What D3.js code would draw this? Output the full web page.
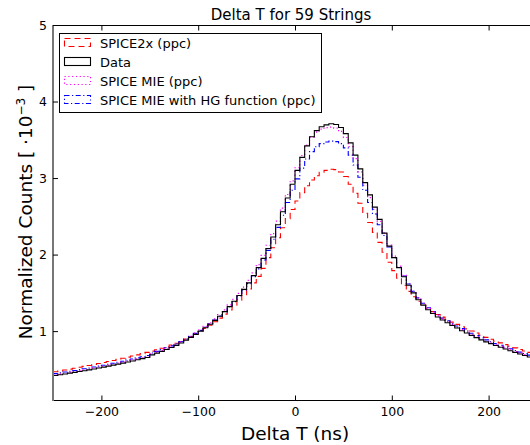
<!DOCTYPE html>
<html>
<head>
<meta charset="utf-8">
<script src="https://cdn.jsdelivr.net/npm/d3@7"></script>
<style>
  body { margin: 0; background: #fff; }
  svg { display: block; font-family: "DejaVu Sans", sans-serif; }
</style>
</head>
<body>
<div id="chart"></div>
<script>
// bin edges of the histograms (5 ns bins from -250 to 250)
const binEdges = d3.range(-250, 250.1, 5);

const dataCounts = [
  0.420, 0.430, 0.440, 0.451, 0.461, 0.472, 0.483, 0.494, 0.506, 0.518,
  0.530, 0.543, 0.556, 0.569, 0.582, 0.596, 0.610, 0.625, 0.640, 0.656,
  0.690, 0.712, 0.735, 0.760, 0.786, 0.814, 0.845, 0.880, 0.918, 0.958,
  1.000, 1.045, 1.090, 1.140, 1.195, 1.255, 1.320, 1.390, 1.465, 1.545,
  1.630, 1.725, 1.830, 1.950, 2.080, 2.230, 2.390, 2.560, 2.740, 2.920,
  3.100, 3.270, 3.420, 3.540, 3.620, 3.670, 3.695, 3.710, 3.700, 3.660,
  3.580, 3.460, 3.300, 3.120, 2.940, 2.780, 2.620, 2.460, 2.280, 2.110,
  1.960, 1.830, 1.710, 1.600, 1.500, 1.410, 1.340, 1.280, 1.230, 1.185,
  1.145, 1.110, 1.075, 1.040, 1.005, 0.975, 0.945, 0.915, 0.885, 0.860,
  0.836, 0.813, 0.790, 0.766, 0.744, 0.722, 0.701, 0.681, 0.662, 0.644
];

const spice2x = [
  0.470, 0.481, 0.492, 0.503, 0.515, 0.527, 0.539, 0.551, 0.564, 0.577,
  0.590, 0.603, 0.617, 0.631, 0.645, 0.660, 0.675, 0.690, 0.706, 0.722,
  0.739, 0.757, 0.776, 0.796, 0.818, 0.842, 0.868, 0.896, 0.927, 0.960,
  0.996, 1.035, 1.077, 1.122, 1.170, 1.222, 1.278, 1.340, 1.405, 1.475,
  1.550, 1.630, 1.715, 1.820, 1.960, 2.090, 2.220, 2.350, 2.470, 2.590,
  2.700, 2.810, 2.900, 2.975, 3.030, 3.075, 3.100, 3.115, 3.110, 3.080,
  3.020, 2.920, 2.800, 2.670, 2.540, 2.420, 2.290, 2.160, 2.030, 1.900,
  1.790, 1.690, 1.600, 1.520, 1.450, 1.390, 1.340, 1.295, 1.255, 1.218,
  1.183, 1.150, 1.118, 1.088, 1.058, 1.030, 1.002, 0.975, 0.944, 0.918,
  0.893, 0.869, 0.846, 0.824, 0.802, 0.781, 0.760, 0.741, 0.722, 0.704
];

const spiceMie = [
  0.432, 0.442, 0.452, 0.463, 0.473, 0.484, 0.495, 0.507, 0.519, 0.531,
  0.543, 0.556, 0.569, 0.582, 0.596, 0.610, 0.624, 0.639, 0.654, 0.670,
  0.704, 0.726, 0.749, 0.774, 0.800, 0.828, 0.859, 0.894, 0.932, 0.973,
  1.016, 1.062, 1.108, 1.160, 1.216, 1.278, 1.344, 1.416, 1.493, 1.575,
  1.662, 1.760, 1.868, 1.990, 2.122, 2.274, 2.436, 2.606, 2.785, 2.962,
  3.135, 3.295, 3.430, 3.535, 3.600, 3.640, 3.660, 3.665, 3.652, 3.610,
  3.530, 3.410, 3.255, 3.080, 2.905, 2.745, 2.590, 2.435, 2.280, 2.125,
  1.980, 1.850, 1.730, 1.620, 1.520, 1.430, 1.358, 1.297, 1.246, 1.200,
  1.159, 1.123, 1.088, 1.053, 1.019, 0.988, 0.957, 0.926, 0.897, 0.871,
  0.847, 0.823, 0.801, 0.777, 0.755, 0.733, 0.712, 0.692, 0.673, 0.655
];

const spiceMieHG = [
  0.445, 0.455, 0.465, 0.476, 0.486, 0.497, 0.508, 0.519, 0.531, 0.543,
  0.555, 0.568, 0.581, 0.594, 0.607, 0.621, 0.635, 0.650, 0.665, 0.681,
  0.714, 0.736, 0.758, 0.782, 0.807, 0.834, 0.863, 0.896, 0.932, 0.970,
  1.010, 1.052, 1.096, 1.144, 1.197, 1.255, 1.318, 1.386, 1.459, 1.537,
  1.620, 1.712, 1.814, 1.930, 2.055, 2.200, 2.355, 2.515, 2.680, 2.840,
  2.990, 3.130, 3.250, 3.345, 3.410, 3.450, 3.472, 3.482, 3.476, 3.450,
  3.395, 3.300, 3.170, 3.010, 2.840, 2.680, 2.530, 2.390, 2.250, 2.100,
  1.960, 1.835, 1.720, 1.615, 1.520, 1.435, 1.365, 1.305, 1.255, 1.210,
  1.170, 1.135, 1.100, 1.066, 1.032, 1.002, 0.972, 0.942, 0.912, 0.886,
  0.861, 0.837, 0.815, 0.791, 0.769, 0.747, 0.726, 0.706, 0.687, 0.669
];

const xTicks = [-200, -100, 0, 100, 200];
const yTicks = [1, 2, 3, 4, 5];

const series = [
  {name: "SPICE2x (ppc)", values: spice2x, color: "#ff0000", dash: "6,4", width: 1.1},
  {name: "Data", values: dataCounts, color: "#000000", dash: null, width: 1.1},
  {name: "SPICE MIE (ppc)", values: spiceMie, color: "#ff00ff", dash: "1.2,2.6", width: 1.2},
  {name: "SPICE MIE with HG function (ppc)", values: spiceMieHG, color: "#0000ff", dash: "5,2.5,1.2,2.5", width: 1.1}
];

const W = 530, H = 445;
const plotLeft = 53, plotTop = 25, plotBottom = 400, plotRight = 537;

const svg = d3.select("#chart").append("svg")
  .attr("width", W).attr("height", H);

const x = d3.scaleLinear().domain([-250, 250]).range([plotLeft, plotRight]);
const y = d3.scaleLinear().domain([0.1, 5]).range([plotBottom, plotTop]);

svg.append("defs").append("clipPath").attr("id", "clip")
  .append("rect")
  .attr("x", plotLeft).attr("y", plotTop)
  .attr("width", plotRight - plotLeft).attr("height", plotBottom - plotTop);

const line = d3.line()
  .x(d => x(d[0]))
  .y(d => y(d[1]))
  .curve(d3.curveStepAfter);

const plot = svg.append("g").attr("clip-path", "url(#clip)");

// draw in an order that keeps data visible on top of the simulations
[series[0], series[3], series[2], series[1]].forEach(s => {
  const pts = s.values.map((v, i) => [binEdges[i], v]);
  pts.push([binEdges[binEdges.length - 1], s.values[s.values.length - 1]]);
  plot.append("path")
    .datum(pts)
    .attr("fill", "none")
    .attr("stroke", s.color)
    .attr("stroke-width", s.width)
    .attr("stroke-dasharray", s.dash)
    .attr("d", line);
});

// frame
svg.append("line").attr("x1", plotLeft).attr("x2", plotRight)
  .attr("y1", plotTop + 0.5).attr("y2", plotTop + 0.5)
  .attr("stroke", "#000").attr("stroke-width", 1);
svg.append("line").attr("x1", plotLeft).attr("x2", plotRight)
  .attr("y1", plotBottom + 0.5).attr("y2", plotBottom + 0.5)
  .attr("stroke", "#000").attr("stroke-width", 1);
svg.append("line").attr("x1", plotLeft).attr("x2", plotLeft)
  .attr("y1", plotTop).attr("y2", plotBottom + 1)
  .attr("stroke", "#777").attr("stroke-width", 2);

// x axis (ticks pointing inward, top and bottom)
const xAxis = svg.append("g").attr("transform", `translate(0,${plotBottom + 0.5})`)
  .call(d3.axisBottom(x).tickValues(xTicks).tickSizeInner(-5).tickSizeOuter(0)
    .tickFormat(d => d < 0 ? "\u2212" + Math.abs(d) : d));
xAxis.select(".domain").remove();
xAxis.selectAll("text").attr("y", 7).attr("font-size", 12.5).attr("font-family", "DejaVu Sans").attr("fill", "#000");
xAxis.selectAll("line").attr("stroke", "#000");

const xTop = svg.append("g").attr("transform", `translate(0,${plotTop + 0.5})`)
  .call(d3.axisTop(x).tickValues(xTicks).tickSizeInner(-5).tickSizeOuter(0).tickFormat(""));
xTop.select(".domain").remove();
xTop.selectAll("line").attr("stroke", "#000");

// y axis
const yAxis = svg.append("g").attr("transform", `translate(${plotLeft},0)`)
  .call(d3.axisLeft(y).tickValues(yTicks).tickSizeInner(-5).tickSizeOuter(0)
    .tickFormat(d3.format("d")));
yAxis.select(".domain").remove();
yAxis.selectAll("text").attr("x", -6).attr("text-anchor", "end")
  .attr("font-size", 12.5).attr("font-family", "DejaVu Sans").attr("fill", "#000");
yAxis.selectAll("line").attr("stroke", "#000");

// title and labels
svg.append("text").attr("x", 291).attr("y", 20)
  .attr("text-anchor", "middle").attr("font-size", 15)
  .text("Delta T for 59 Strings");

svg.append("text").attr("x", 295).attr("y", 440)
  .attr("text-anchor", "middle").attr("font-size", 18.5)
  .text("Delta T (ns)");

const yl = svg.append("text")
  .attr("transform", "translate(32,212) rotate(-90)")
  .attr("text-anchor", "middle").attr("font-size", 18.5);
yl.append("tspan").text("Normalized Counts [ \u00b710");
yl.append("tspan").attr("dy", -7).attr("font-size", 12).text("\u22123");
yl.append("tspan").attr("dy", 7).text(" ]");

// legend
const lg = svg.append("g").attr("transform", "translate(59,33)");
lg.append("rect").attr("x", 0.5).attr("y", 0.5).attr("width", 262).attr("height", 79)
  .attr("fill", "#fff").attr("stroke", "#000").attr("stroke-width", 1);
series.forEach((s, i) => {
  const cy = 10 + i * 19;
  lg.append("rect")
    .attr("x", 5.5).attr("y", cy - 4.5).attr("width", 26).attr("height", 8)
    .attr("fill", "none").attr("stroke", s.color).attr("stroke-width", 1.1)
    .attr("stroke-dasharray", s.dash);
  lg.append("text").attr("x", 41).attr("y", cy + 4.5)
    .attr("font-size", 13).text(s.name);
});
</script>
</body>
</html>
